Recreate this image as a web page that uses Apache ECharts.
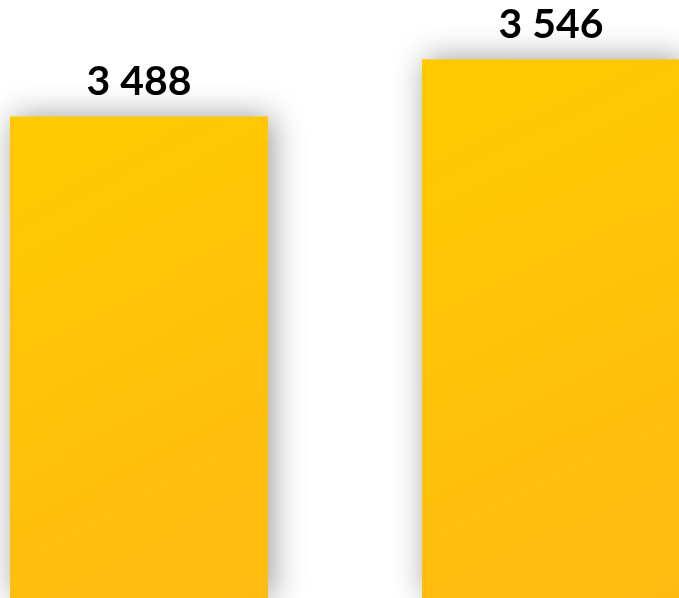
<!DOCTYPE html>
<html>
<head>
<meta charset="utf-8">
<style>
  html, body { margin: 0; padding: 0; background: #ffffff; }
  #chart { width: 679px; height: 598px; }
</style>
<script src="https://cdn.jsdelivr.net/npm/echarts@6/dist/echarts.min.js"></script>
</head>
<body>
<div id="chart"></div>
<script>
// Two yearly totals, drawn as tall yellow columns with their values on top
const categories = ['A', 'B'];
const values = [3488, 3546];
const valueLabels = ['3 488', '3 546'];

const chart = echarts.init(document.getElementById('chart'), null, { renderer: 'canvas' });

const barFill = new echarts.graphic.LinearGradient(0, 0, 1, 1, [
  { offset: 0, color: '#FFCA00' },
  { offset: 1, color: '#FFBB12' }
]);

chart.setOption({
  animation: false,
  grid: {
    left: -67, width: 824, top: 6, bottom: 0,
    containLabel: false,
    outerBoundsMode: 'none'
  },
  xAxis: {
    type: 'category',
    data: categories,
    show: false
  },
  yAxis: {
    type: 'value',
    min: 3000,
    max: 3600,
    show: false
  },
  series: [{
    type: 'bar',
    data: values,
    barWidth: 258,
    itemStyle: {
      color: barFill,
      shadowColor: 'rgba(0,0,0,0.4)',
      shadowBlur: 30,
      shadowOffsetX: 4,
      shadowOffsetY: 0
    },
    label: {
      show: true,
      position: 'top',
      distance: 14,
      fontFamily: 'Lato',
      fontWeight: 'bold',
      fontSize: 41,
      color: '#000000',
      formatter: (p) => valueLabels[p.dataIndex]
    }
  }]
});
</script>
</body>
</html>
